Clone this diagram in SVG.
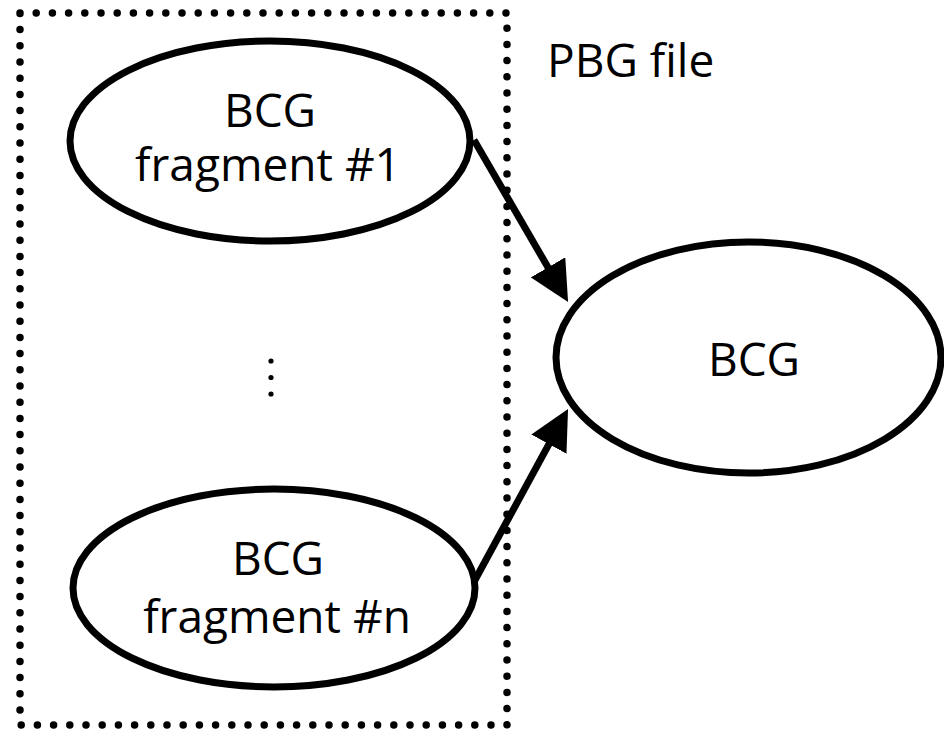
<svg xmlns="http://www.w3.org/2000/svg" width="944" height="729" viewBox="0 0 944 729">
  <style>
    .node { fill: #ffffff; stroke: #000000; stroke-width: 7; }
    .label { font-family: "Open Sans", "Noto Sans", "Liberation Sans", sans-serif; font-size: 46px; fill: #000000; text-anchor: middle; }
    .frame { fill: none; stroke: #000000; stroke-width: 7.5; stroke-linecap: round; stroke-dasharray: 0 16.2; }
    .edge { fill: none; stroke: #000000; stroke-width: 7; }
  </style>
  <defs>
    <marker id="arrow" viewBox="0 0 40 40" refX="10" refY="20" markerWidth="40" markerHeight="40" markerUnits="userSpaceOnUse" orient="auto">
      <path d="M0,0 L40,20 L0,40 z" fill="#000000"/>
    </marker>
  </defs>
  <rect width="944" height="729" fill="#ffffff"/>

  <!-- container for the file fragments -->
  <g id="pbg-file">
    <rect class="frame" x="20" y="13" width="487" height="712"/>
    <text class="label" x="547" y="77" style="text-anchor: start">PBG file</text>
  </g>

  <g id="fragment-1">
    <ellipse class="node" cx="270" cy="141" rx="200" ry="100"/>
    <text class="label" x="270" y="127">BCG</text>
    <text class="label" x="268" y="181">fragment #1</text>
  </g>

  <g id="ellipsis">
    <circle cx="271" cy="361" r="2.6"/>
    <circle cx="271" cy="377.5" r="2.6"/>
    <circle cx="271" cy="394" r="2.6"/>
  </g>

  <g id="fragment-n">
    <ellipse class="node" cx="274" cy="588" rx="201" ry="99"/>
    <text class="label" x="278" y="575">BCG</text>
    <text class="label" x="277" y="633">fragment #n</text>
  </g>

  <g id="bcg">
    <ellipse class="node" cx="748.5" cy="357.5" rx="192.5" ry="115.5"/>
    <text class="label" x="754" y="376">BCG</text>
  </g>

  <g id="connectors">
    <line class="edge" x1="474" y1="140" x2="553" y2="276" marker-end="url(#arrow)"/>
    <line class="edge" x1="475" y1="580" x2="553.7" y2="435.4" marker-end="url(#arrow)"/>
  </g>
</svg>
